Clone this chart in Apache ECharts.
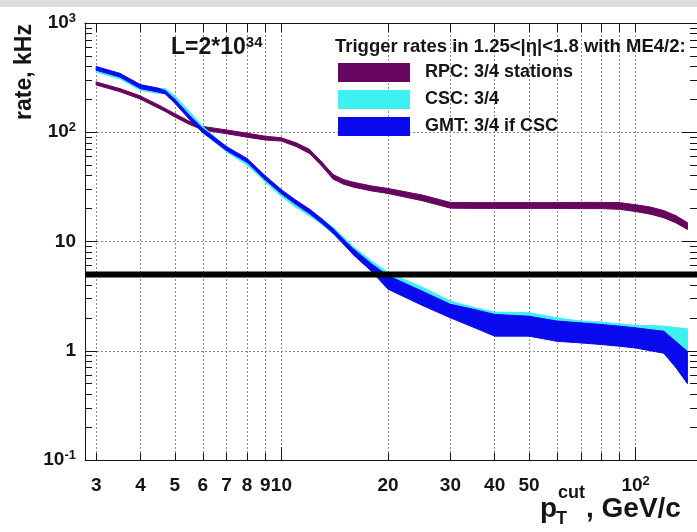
<!DOCTYPE html>
<html>
<head>
<meta charset="utf-8">
<style>
html, body { margin: 0; padding: 0; background: #fff; }
#chart { width: 697px; height: 532px; }
</style>
<script src="https://cdn.jsdelivr.net/npm/echarts@6/dist/echarts.min.js"></script>
</head>
<body>
<div id="chart"></div>
<script>
// pT cut points (GeV/c)
var pT = [3, 3.5, 4, 4.5, 4.7, 5, 5.5, 6, 7, 8, 9, 10, 11, 12, 13, 14, 15, 16, 18, 20,
          25, 30, 35, 40, 50, 60, 70, 80, 90, 100, 110, 120, 130, 140];

// RPC 3/4 stations band (kHz)
var rpcLow  = [271, 235, 201, 166, 155, 138, 118, 105, 97, 90, 85, 83, 74, 64, 49, 37.2, 33.4, 31.4, 29, 27.5,
               23.6, 20.2, 20.1, 20.1, 20.1, 20.1, 20.0, 20.0, 19.7, 18.8, 17.8, 16.5, 14.8, 12.9];
var rpcHigh = [289, 251, 215, 178, 165, 148, 126, 113, 105, 98, 92, 89, 80, 70, 53.5, 41, 36.8, 34.8, 32.2, 30.6,
               26.6, 22.8, 22.7, 22.7, 22.7, 22.7, 22.8, 22.8, 22.7, 21.7, 20.7, 19.2, 17.2, 14.9];

// CSC 3/4 band
var cscLow  = [355, 308, 242, 226, 228, 190, 135, 100, 66, 50, 35, 25.8, 20.5, 17.2, 14.3, 11.8, 9.4, 7.6, 5.5, 4.3,
               3.2, 2.4, 2.1, 1.9, 1.85, 1.7, 1.6, 1.55, 1.5, 1.45, 1.4, 1.35, 1.1, 1.0];
var cscHigh = [392, 340, 268, 250, 252, 215, 155, 113, 73, 56, 39, 29, 23.2, 19.5, 16.2, 13.4, 10.9, 8.9, 6.6, 5.2,
               3.82, 2.85, 2.49, 2.26, 2.23, 2.0, 1.87, 1.83, 1.76, 1.71, 1.70, 1.68, 1.63, 1.59];

// GMT 3/4 if CSC band
var gmtLow  = [370, 320, 251, 233, 224, 185, 131, 99, 68, 53, 36.7, 27.4, 21.8, 18, 14.7, 11.9, 9.4, 7.5, 5.3, 3.66,
               2.6, 2.0, 1.63, 1.36, 1.36, 1.22, 1.18, 1.14, 1.10, 1.06, 1.0, 0.95, 0.70, 0.50];
var gmtHigh = [400, 346, 273, 253, 240, 201, 143, 108, 74, 57.5, 40, 29.8, 23.8, 19.8, 16.1, 13.1, 10.4, 8.5, 6.2, 4.86,
               3.5, 2.66, 2.39, 2.15, 2.07, 1.87, 1.80, 1.74, 1.68, 1.62, 1.56, 1.51, 1.21, 0.985];

var rateLimit = 5;

var xTicks = [3, 4, 5, 6, 7, 8, 9, 10, 20, 30, 40, 50, 60, 70, 80, 90, 100];
var xLabelVals = [3, 4, 5, 6, 7, 8, 9, 10, 20, 30, 40, 50, 100];
var xMajorTicks = [10, 100];
var yTicks = [0.1, 1, 10, 100, 1000];
var yTickBase = ['10', '1', '10', '10', '10'];
var yTickExp = ['-1', '', '', '2', '3'];

var legendNames = ['RPC: 3/4 stations', 'CSC: 3/4', 'GMT: 3/4 if CSC'];
var colors = ['#66065e', '#3ef0f0', '#0a0aee'];

var yMinor = [];
[0.1, 1, 10, 100].forEach(function (d) {
  for (var k = 2; k <= 9; k++) yMinor.push(d * k);
});

var FONT = 'Liberation Sans';
var INK = '#151515';
var X_MIN = 2.79, X_MAX = 149;

// one quad per pT interval: [x0, lo0, hi0, x1, lo1, hi1]
function segments(lo, hi) {
  var out = [];
  for (var i = 0; i < pT.length - 1; i++) {
    out.push([pT[i], lo[i], hi[i], pT[i + 1], lo[i + 1], hi[i + 1]]);
  }
  return out;
}
function band(name, color, lo, hi) {
  return {
    type: 'custom', name: name, silent: true,
    itemStyle: { color: color },
    encode: { x: [0, 3], y: [1, 2, 4, 5] },
    data: segments(lo, hi),
    renderItem: function (params, api) {
      var a = api.coord([api.value(0), api.value(1)]);
      var b = api.coord([api.value(0), api.value(2)]);
      var c = api.coord([api.value(3), api.value(5)]);
      var d = api.coord([api.value(3), api.value(4)]);
      return {
        type: 'polygon',
        shape: { points: [a, b, c, d] },
        style: { fill: color, stroke: color, lineWidth: 1 }
      };
    }
  };
}

function yLabel(v) {
  for (var i = 0; i < yTicks.length; i++) {
    if (Math.abs(Math.log10(v) - Math.log10(yTicks[i])) < 1e-6) {
      return yTickExp[i] ? '{b|' + yTickBase[i] + '}{s|' + yTickExp[i] + '}' : '{b|' + yTickBase[i] + '}';
    }
  }
  return '';
}
function xLabel(v) {
  if (Math.abs(v - 100) < 1e-6) return '{b|10}{s|2}';
  return '{b|' + Math.round(v) + '}';
}

var tickRich = {
  b: { fontFamily: FONT, fontWeight: 'bold', fontSize: 19, color: INK, lineHeight: 22 },
  s: { fontFamily: FONT, fontWeight: 'bold', fontSize: 13, color: INK, lineHeight: 8, verticalAlign: 'top' }
};
var gridLine = { show: true, lineStyle: { color: '#8a8a8a', width: 1, type: [2, 2] } };
var frameLine = { show: true, lineStyle: { color: INK, width: 1 } };

function logX(extra) {
  return Object.assign({
    type: 'log', min: X_MIN, max: X_MAX,
    axisLine: frameLine,
    axisLabel: { show: false },
    splitLine: { show: false }
  }, extra);
}
function logY(extra) {
  return Object.assign({
    type: 'log', min: 0.1, max: 1000,
    axisLine: frameLine,
    axisLabel: { show: false },
    splitLine: { show: false }
  }, extra);
}

var chart = echarts.init(document.getElementById('chart'));
chart.setOption({
  animation: false,
  backgroundColor: '#ffffff',
  grid: { left: 85, right: -1, top: 23, bottom: 72 },
  title: [{
    text: 'Trigger rates in 1.25<|η|<1.8 with ME4/2:',
    left: 335, top: 37, padding: 0,
    textStyle: { fontFamily: FONT, fontWeight: 'bold', fontSize: 18.5, color: INK }
  }, {
    text: '{a|L=2*10}{b|34}',
    left: 171, top: 35, padding: 0,
    textStyle: {
      rich: {
        a: { fontFamily: FONT, fontWeight: 'bold', fontSize: 23, color: INK, lineHeight: 26 },
        b: { fontFamily: FONT, fontWeight: 'bold', fontSize: 15, color: INK, lineHeight: 10, verticalAlign: 'top' }
      }
    }
  }],
  legend: {
    data: legendNames,
    orient: 'vertical',
    left: 338, top: 63, padding: 0,
    itemWidth: 72, itemHeight: 19, itemGap: 8,
    icon: 'rect',
    selectedMode: false,
    textStyle: { fontFamily: FONT, fontWeight: 'bold', fontSize: 18, color: INK, lineHeight: 19, padding: [0, 0, 0, 10] }
  },
  xAxis: [
    logX({
      position: 'bottom',
      axisTick: { inside: true, length: 7, customValues: xTicks, lineStyle: { color: INK } },
      axisLabel: { show: true, customValues: xLabelVals, formatter: xLabel, margin: 15, rich: tickRich },
      splitLine: gridLine
    }),
    logX({
      position: 'top',
      axisTick: { inside: true, length: 9, customValues: xTicks, lineStyle: { color: INK } }
    }),
    logX({
      position: 'bottom',
      axisLine: { show: false },
      axisTick: { inside: true, length: 13, customValues: xMajorTicks, lineStyle: { color: INK } }
    })
  ],
  yAxis: [
    logY({
      position: 'left',
      axisTick: { inside: true, length: 12, lineStyle: { color: INK } },
      axisLabel: { show: true, formatter: yLabel, margin: 9, rich: tickRich },
      splitLine: gridLine
    }),
    logY({
      position: 'left',
      axisLine: { show: false },
      axisTick: { inside: true, length: 7, customValues: yMinor, lineStyle: { color: INK } }
    }),
    logY({
      position: 'right',
      axisTick: { inside: true, length: 15, lineStyle: { color: INK } }
    }),
    logY({
      position: 'right',
      axisLine: { show: false },
      axisTick: { inside: true, length: 7, customValues: yMinor, lineStyle: { color: INK } }
    })
  ],
  series: [
    band(legendNames[0], colors[0], rpcLow, rpcHigh),
    band(legendNames[1], colors[1], cscLow, cscHigh),
    band(legendNames[2], colors[2], gmtLow, gmtHigh),
    {
      type: 'line', name: 'limit', silent: true, symbol: 'none',
      data: [[X_MIN, rateLimit], [X_MAX, rateLimit]],
      lineStyle: { color: '#000', width: 6 }
    }
  ],
  graphic: [
    { type: 'rect', left: 0, top: 0, shape: { width: 697, height: 7 }, style: { fill: '#dcdcdc' }, silent: true },
    {
      type: 'text', x: 25, y: 72, rotation: Math.PI / 2, silent: true,
      style: { text: 'rate, kHz', align: 'center', verticalAlign: 'middle',
               font: 'bold 23px "Liberation Sans"', fill: INK }
    },
    { type: 'text', x: 540, y: 495, silent: true,
      style: { text: 'p', font: 'bold 28px "Liberation Sans"', fill: INK } },
    { type: 'text', x: 558, y: 484, silent: true,
      style: { text: 'cut', font: 'bold 18px "Liberation Sans"', fill: INK } },
    { type: 'text', x: 556, y: 510, silent: true,
      style: { text: 'T', font: 'bold 18px "Liberation Sans"', fill: INK } },
    { type: 'text', x: 586, y: 495, silent: true,
      style: { text: ', GeV/c', font: 'bold 28px "Liberation Sans"', fill: INK } }
  ]
});
</script>
</body>
</html>
